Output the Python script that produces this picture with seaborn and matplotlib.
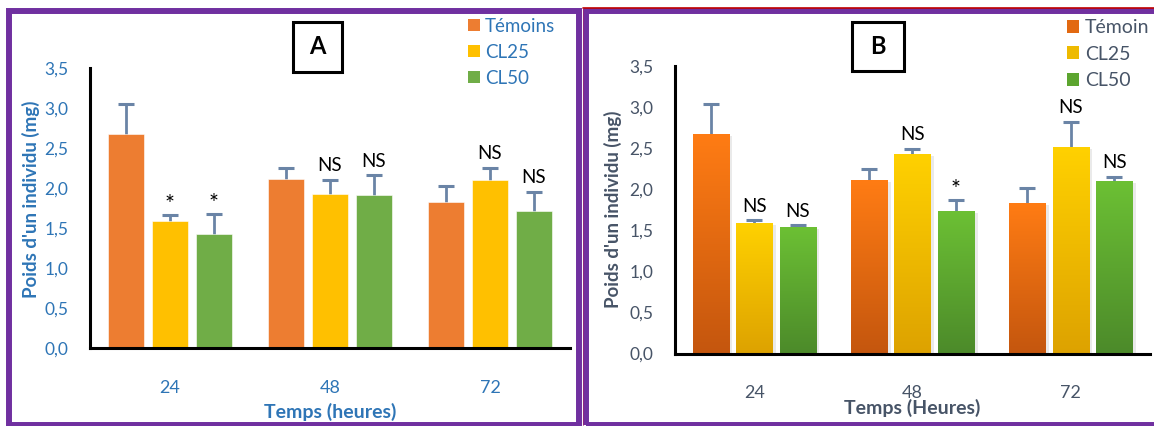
import numpy as np
import pandas as pd
import matplotlib
matplotlib.use("Agg")
import matplotlib.pyplot as plt
import seaborn as sns
from matplotlib.patches import Rectangle, Patch
from matplotlib.lines import Line2D
from matplotlib.colors import LinearSegmentedColormap
from matplotlib.container import BarContainer
from matplotlib.ticker import FuncFormatter, MultipleLocator
import matplotlib.patheffects as pe

# ---- data -----------------------------------------------------------------
times = ["24", "48", "72"]

groups_a = ["Témoins", "CL25", "CL50"]
a_temoins = [2.68, 2.11, 1.83]
a_cl25 = [1.59, 1.92, 2.10]
a_cl50 = [1.43, 1.91, 1.71]
a_err_temoins = [0.37, 0.14, 0.19]
a_err_cl25 = [0.07, 0.18, 0.15]
a_err_cl50 = [0.24, 0.25, 0.24]
a_sig_cl25 = ["*", "NS", "NS"]
a_sig_cl50 = ["*", "NS", "NS"]

groups_b = ["Témoin", "CL25", "CL50"]
b_temoin = [2.67, 2.11, 1.83]
b_cl25 = [1.59, 2.43, 2.52]
b_cl50 = [1.54, 1.74, 2.10]
b_err_temoin = [0.37, 0.14, 0.19]
b_err_cl25 = [0.03, 0.06, 0.30]
b_err_cl50 = [0.02, 0.13, 0.05]
b_sig_cl25 = ["NS", "NS", "NS"]
b_sig_cl50 = ["NS", "*", "NS"]

y_label = "Poids d'un individu (mg)"
x_label_a = "Temps (heures)"
x_label_b = "Temps (Heures)"

# ---- style ----------------------------------------------------------------
sns.set_style("white")
plt.rcParams["font.family"] = ["Lato", "DejaVu Sans"]

BLUE_TXT = "#2E75B6"
GREY_TXT = "#475467"
ERR_COL = "#6A84A6"
PURPLE = "#7030A0"

flat_a = ["#ED7D31", "#FFC000", "#70AD47"]
grad_b = [("#FF7C14", "#C4560E"), ("#FFD100", "#DDA200"), ("#6CC034", "#4C8A2A")]

W, H = 1154, 426
fig = plt.figure(figsize=(W / 100, H / 100), dpi=100)


def px_rect(x0, y0, x1, y1):
    """figure-fraction rect from pixel box (origin top-left)"""
    return [x0 / W, 1 - y1 / H, (x1 - x0) / W, (y1 - y0) / H]


def make_long(groups, series):
    rows = []
    for g, vals in zip(groups, series):
        for t, v in zip(times, vals):
            rows.append({"temps": t, "groupe": g, "poids": v})
    return pd.DataFrame(rows)


def draw_panel(ax, groups, series, errs, sigs, colors, txt_col, xlabel,
               gradient=None, gap=0.2, ylab_xy=(-0.12, 0.53), xlab_y=-0.23):
    df = make_long(groups, series)
    sns.barplot(data=df, x="temps", y="poids", hue="groupe", order=times,
                hue_order=groups, palette=colors, errorbar=None,
                width=0.825, gap=gap, saturation=1, legend=False, ax=ax,
                edgecolor="white", linewidth=0.4, zorder=2)
    bar_conts = [c for c in ax.containers if isinstance(c, BarContainer)]

    for k, cont in enumerate(bar_conts):
        xs = [p.get_x() + p.get_width() / 2 for p in cont.patches]
        ys = [p.get_height() for p in cont.patches]
        e = errs[k]
        # symmetric bars drawn behind the columns: only the upper half shows
        ax.errorbar(xs, ys, yerr=e, fmt="none",
                    ecolor=ERR_COL, elinewidth=2.0, capsize=6, capthick=2.2,
                    zorder=1)
        if gradient is not None:
            top, bottom = gradient[k]
            cmap = LinearSegmentedColormap.from_list("g%d" % k, [bottom, top])
            for p in cont.patches:
                p.set_facecolor(bottom)
                p.set_edgecolor("none")
                p.set_path_effects([pe.SimplePatchShadow(offset=(2.5, -1.5),
                                                         shadow_rgbFace="#999999",
                                                         alpha=0.2),
                                    pe.Normal()])
                x0, w, h = p.get_x(), p.get_width(), p.get_height()
                grad = np.linspace(0, 1, 256).reshape(-1, 1)
                im = ax.imshow(grad, extent=[x0, x0 + w, 0, h], origin="lower",
                               cmap=cmap, aspect="auto", zorder=3,
                               interpolation="bilinear")
                im.set_clip_path(p)
        # significance marks
        if k > 0:
            for x, y, ee, s in zip(xs, ys, e, sigs[k - 1]):
                ax.annotate(s, (x, y + ee), xytext=(0, 4 if s == "NS" else 0),
                            textcoords="offset points", ha="center",
                            va="bottom", fontsize=13.5 if s == "NS" else 17,
                            color="black", zorder=5)
    ax.set_xlim(-0.5, 2.5)
    ax.set_ylim(0, 3.5)

    for side in ("top", "right"):
        ax.spines[side].set_visible(False)
    for side in ("left", "bottom"):
        ax.spines[side].set_color("black")
        ax.spines[side].set_linewidth(2.2)
        ax.spines[side].set_zorder(6)
    ax.yaxis.set_major_locator(MultipleLocator(0.5))
    ax.yaxis.set_major_formatter(FuncFormatter(lambda v, _: f"{v:.1f}".replace(".", ",")))
    ax.tick_params(axis="y", length=0, pad=15.5, labelsize=12.5, labelcolor=txt_col)
    ax.tick_params(axis="x", length=0, pad=23, labelsize=13, labelcolor=txt_col)
    ax.set_xlabel(xlabel, fontsize=14, fontweight="bold", color=txt_col, va="center")
    ax.xaxis.set_label_coords(0.5, xlab_y)
    ax.set_ylabel(y_label, fontsize=13.5, fontweight="bold", color=txt_col, va="center")
    ax.yaxis.set_label_coords(*ylab_xy)
    ax.grid(False)
    ax.set_facecolor("none")


# ---- panel A --------------------------------------------------------------
ax_a = fig.add_axes(px_rect(90, 68, 570, 348))
draw_panel(ax_a, groups_a, [a_temoins, a_cl25, a_cl50],
           [a_err_temoins, a_err_cl25, a_err_cl50], [a_sig_cl25, a_sig_cl50],
           flat_a, BLUE_TXT, x_label_a, gap=0.2,
           ylab_xy=(-0.123, 0.532), xlab_y=-0.229)

# ---- panel B --------------------------------------------------------------
ax_b = fig.add_axes(px_rect(675, 66, 1150, 353.5))
draw_panel(ax_b, groups_b, [b_temoin, b_cl25, b_cl50],
           [b_err_temoin, b_err_cl25, b_err_cl50], [b_sig_cl25, b_sig_cl50],
           [g[0] for g in grad_b], GREY_TXT, x_label_b, gradient=grad_b, gap=0.17,
           ylab_xy=(-0.1305, 0.503), xlab_y=-0.19)

# ---- legends --------------------------------------------------------------
leg_kw = dict(loc="upper left", frameon=False, handlelength=0.64,
              handleheight=0.64, handletextpad=0.27, labelspacing=0.49,
              borderaxespad=0, borderpad=0)

handles_a = [Patch(facecolor=c, edgecolor="none") for c in flat_a]
leg_a = fig.legend(handles_a, groups_a, bbox_to_anchor=(468 / W, 1 - 17.5 / H),
                   fontsize=13.5, **leg_kw)
for t in leg_a.get_texts():
    t.set_color(BLUE_TXT)

handles_b = [Patch(facecolor=np.mean([matplotlib.colors.to_rgb(g[0]),
                                      matplotlib.colors.to_rgb(g[1])], axis=0),
                   edgecolor="none") for g in grad_b]
leg_b = fig.legend(handles_b, groups_b, bbox_to_anchor=(1067 / W, 1 - 19 / H),
                   fontsize=14, **leg_kw)
for t in leg_b.get_texts():
    t.set_color(GREY_TXT)

# ---- panel letters in boxes ----------------------------------------------
for (x0, y0, x1, y1), letter in (((293, 22, 341.5, 72), "A"), ((852, 22, 904, 71), "B")):
    r = px_rect(x0, y0, x1, y1)
    fig.add_artist(Rectangle((r[0], r[1]), r[2], r[3], transform=fig.transFigure,
                             facecolor="white", edgecolor="black", linewidth=2.2))
    fig.text(r[0] + r[2] / 2, r[1] + r[3] / 2, letter, ha="center", va="center",
             fontsize=17, fontweight="bold", color="black")

# ---- panel frames ---------------------------------------------------------
lw = 4.3
fig.add_artist(Rectangle((9 / W, 1 - 425 / H), (579 - 9) / W, (425 - 11) / H,
                         transform=fig.transFigure, facecolor="none",
                         edgecolor=PURPLE, linewidth=lw))
fig.add_artist(Line2D([583 / W, 1], [1 - 7.5 / H, 1 - 7.5 / H], transform=fig.transFigure,
                      color="#C00000", linewidth=1.2))
fig.add_artist(Rectangle((585.5 / W, 1 - 425 / H), (1170 - 585.5) / W, (425 - 11) / H,
                         transform=fig.transFigure, facecolor="none",
                         edgecolor=PURPLE, linewidth=lw))
fig.add_artist(Line2D([582.7 / W, 582.7 / W], [1 - 425 / H, 1 - 8 / H], transform=fig.transFigure,
                      color="#A0206A", linewidth=0.8, alpha=0.6))

fig.savefig("out.png", dpi=100)
